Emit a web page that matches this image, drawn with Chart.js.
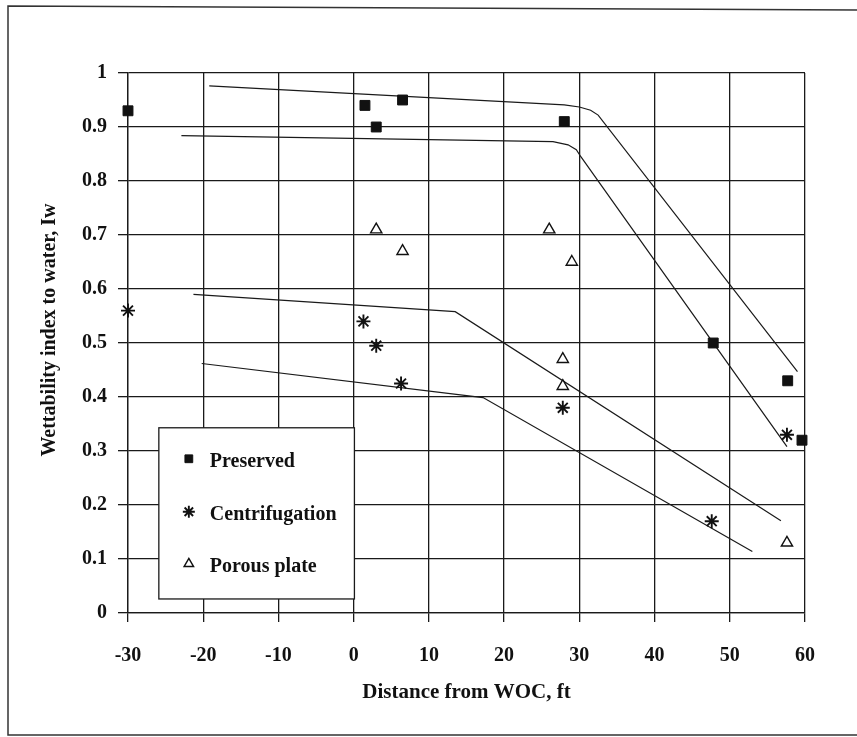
<!DOCTYPE html>
<html>
<head>
<meta charset="utf-8">
<style>
  html, body { margin: 0; padding: 0; background: #fff; }
  #wrap { width: 857px; height: 737px; position: relative; }
</style>
<script src="https://cdn.jsdelivr.net/npm/chart.js@4/dist/chart.umd.min.js"></script>
</head>
<body>
<div id="wrap"><canvas id="c" width="857" height="737"></canvas></div>
<script>
// Axis ticks
const xTicks = [-30, -20, -10, 0, 10, 20, 30, 40, 50, 60];
const yTicks = [0, 0.1, 0.2, 0.3, 0.4, 0.5, 0.6, 0.7, 0.8, 0.9, 1];
const yTickLabels = ['0', '0.1', '0.2', '0.3', '0.4', '0.5', '0.6', '0.7', '0.8', '0.9', '1'];

// Measured wettability index (Iw) vs distance from WOC (ft)
const preservedX = [-30, 1.5, 3, 6.5, 28, 47.8, 57.7, 59.6];
const preservedY = [0.93, 0.94, 0.90, 0.95, 0.91, 0.50, 0.43, 0.32];

const centrifugationX = [-30, 1.3, 3, 6.3, 27.8, 47.6, 57.6];
const centrifugationY = [0.56, 0.54, 0.495, 0.425, 0.38, 0.17, 0.33];

const porousX = [3, 6.5, 26, 29, 27.8, 27.8, 57.6];
const porousY = [0.71, 0.67, 0.71, 0.65, 0.47, 0.42, 0.13];

// Hand-fitted trend curves
const trendUpperX = [-19.2, 28, 30, 31.5, 32.5, 59];
const trendUpperY = [0.976, 0.941, 0.937, 0.931, 0.922, 0.447];

const trendLowerX = [-22.9, 26.5, 28.5, 29.6, 30.2, 57.6];
const trendLowerY = [0.884, 0.873, 0.867, 0.858, 0.845, 0.308];

const trendMidX = [-21.3, 13.5, 56.8];
const trendMidY = [0.590, 0.558, 0.171];

const trendBottomX = [-20.2, 17.2, 53];
const trendBottomY = [0.462, 0.399, 0.114];

const pts = (xs, ys) => xs.map((x, i) => ({ x: x, y: ys[i] }));

const INK = '#111';
const SERIF = '"Liberation Serif", "Times New Roman", serif';

function trend(xs, ys) {
  return {
    type: 'line',
    data: pts(xs, ys),
    showLine: true,
    borderColor: '#1a1a1a',
    borderWidth: 1.2,
    pointRadius: 0,
    tension: 0,
    fill: false,
    inLegend: false,
    order: 2
  };
}

// White page with the figure frame
const framePlugin = {
  id: 'frame',
  beforeDraw(chart) {
    const ctx = chart.ctx;
    ctx.save();
    ctx.fillStyle = '#fff';
    ctx.fillRect(0, 0, chart.width, chart.height);
    ctx.strokeStyle = '#333';
    ctx.lineWidth = 1.5;
    ctx.beginPath();
    ctx.moveTo(857, 10);
    ctx.lineTo(8, 6);
    ctx.lineTo(8, 735);
    ctx.lineTo(857, 735);
    ctx.stroke();
    ctx.restore();
  }
};

// Vertical axis title, centred a little above the middle of the plot
const yTitlePlugin = {
  id: 'yTitle',
  afterDraw(chart) {
    const ctx = chart.ctx;
    const ys = chart.scales.y;
    ctx.save();
    ctx.translate(50, ys.getPixelForValue(0.524));
    ctx.rotate(-Math.PI / 2);
    ctx.fillStyle = INK;
    ctx.font = 'bold 20px ' + SERIF;
    ctx.textAlign = 'center';
    ctx.textBaseline = 'middle';
    ctx.fillText('Wettability index to water, Iw', 0, 0);
    ctx.restore();
  }
};

// Boxed legend inside the plot area
const boxLegend = {
  id: 'boxLegend',
  afterDraw(chart) {
    const ctx = chart.ctx;
    const xs = chart.scales.x, ys = chart.scales.y;
    const left = xs.getPixelForValue(-25.9), right = xs.getPixelForValue(0.1);
    const top = ys.getPixelForValue(0.343), bottom = ys.getPixelForValue(0.026);
    ctx.save();
    ctx.fillStyle = '#fff';
    ctx.fillRect(left, top, right - left, bottom - top);
    ctx.strokeStyle = '#1a1a1a';
    ctx.lineWidth = 1.3;
    ctx.strokeRect(left, top, right - left, bottom - top);
    const items = chart.data.datasets.filter(d => d.inLegend !== false);
    const rowY = [top + 33, top + 86, top + 138];
    items.forEach((d, i) => {
      const y = rowY[i];
      const opts = {
        pointStyle: d.pointStyle,
        radius: d.legendRadius,
        rotation: 0,
        borderWidth: d.borderWidth
      };
      ctx.fillStyle = d.backgroundColor;
      ctx.strokeStyle = d.borderColor;
      ctx.lineWidth = d.borderWidth;
      Chart.helpers.drawPoint(ctx, opts, left + 30, y - 2);
      ctx.fillStyle = INK;
      ctx.font = 'bold 20px ' + SERIF;
      ctx.textBaseline = 'middle';
      ctx.textAlign = 'left';
      ctx.fillText(d.label, left + 51, y + 1);
    });
    ctx.restore();
  }
};

new Chart(document.getElementById('c'), {
  type: 'scatter',
  data: {
    datasets: [
      {
        label: 'Preserved',
        data: pts(preservedX, preservedY),
        pointStyle: 'rect',
        pointRadius: 7,
        legendRadius: 5.5,
        backgroundColor: '#111',
        borderColor: '#111',
        borderWidth: 1,
        clip: false,
        order: 1
      },
      {
        label: 'Centrifugation',
        data: pts(centrifugationX, centrifugationY),
        pointStyle: 'star',
        pointRadius: 7,
        legendRadius: 6,
        backgroundColor: '#111',
        borderColor: '#111',
        borderWidth: 1.9,
        clip: false,
        order: 1
      },
      {
        label: 'Porous plate',
        data: pts(porousX, porousY),
        pointStyle: 'triangle',
        pointRadius: 6.5,
        legendRadius: 5.5,
        backgroundColor: '#fff',
        borderColor: '#111',
        borderWidth: 1.4,
        clip: false,
        order: 1
      },
      trend(trendUpperX, trendUpperY),
      trend(trendLowerX, trendLowerY),
      trend(trendMidX, trendMidY),
      trend(trendBottomX, trendBottomY)
    ]
  },
  options: {
    responsive: false,
    animation: false,
    devicePixelRatio: 1,
    layout: { padding: { left: 30, top: 73, right: 52, bottom: 32 } },
    plugins: {
      legend: { display: false },
      tooltip: { enabled: false }
    },
    scales: {
      x: {
        type: 'linear',
        min: -30,
        max: 60,
        afterBuildTicks: axis => { axis.ticks = xTicks.map(v => ({ value: v })); },
        afterFit: axis => { axis.height = 92; },
        grid: { color: '#1a1a1a', lineWidth: 1.3, tickLength: 9, drawTicks: true },
        border: { color: '#1a1a1a', width: 1.3 },
        ticks: {
          color: INK,
          font: { family: SERIF, size: 20, weight: 'bold' },
          padding: 22,
          maxRotation: 0,
          autoSkip: false,
          callback: v => String(v)
        },
        title: {
          display: true,
          text: 'Distance from WOC, ft',
          color: INK,
          font: { family: SERIF, size: 21, weight: 'bold' },
          padding: { top: 0, bottom: 0 }
        }
      },
      y: {
        type: 'linear',
        min: 0,
        max: 1,
        afterBuildTicks: axis => { axis.ticks = yTicks.map(v => ({ value: v })); },
        afterFit: axis => { axis.width = 98; },
        grid: { color: '#1a1a1a', lineWidth: 1.3, tickLength: 10, drawTicks: true },
        border: { color: '#1a1a1a', width: 1.3 },
        ticks: {
          color: INK,
          font: { family: SERIF, size: 20, weight: 'bold' },
          padding: 11,
          autoSkip: false,
          callback: (v, i) => yTickLabels[i]
        },
        title: { display: false }
      }
    }
  },
  plugins: [framePlugin, yTitlePlugin, boxLegend]
});
</script>
</body>
</html>
